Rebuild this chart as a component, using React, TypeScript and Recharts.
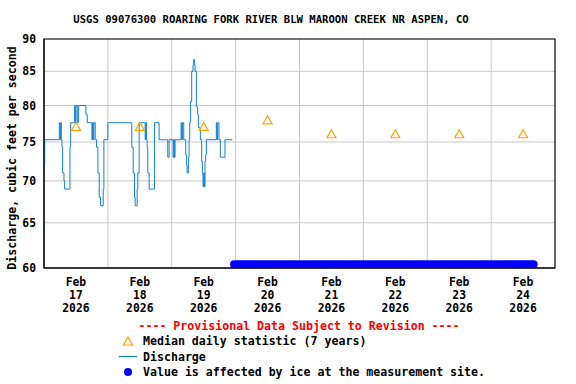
import React from 'react';
import {
  ComposedChart,
  Line,
  XAxis,
  YAxis,
  CartesianGrid,
  ReferenceArea,
} from 'recharts';

// hours counted from Feb 17 2026 00:00
const dischargeSteps: [number, number][] = [
  [0, 72], [0.25, 75.3], [5.75, 77.6], [6.0, 75.3], [6.25, 77.6], [6.5, 75.3],
  [6.75, 74.3], [7.0, 71], [7.5, 70], [7.75, 69], [9.75, 74.3], [10.0, 77.6],
  [11.5, 80], [11.75, 77.6], [12.0, 80], [12.5, 77.6],
  [13.0, 80], [15.75, 78.7], [16.25, 77.6], [18.0, 75.3], [18.25, 77.6], [18.5, 75.3],
  [18.75, 77.6], [19.25, 75.3], [19.75, 74.3], [20.25, 71], [20.75, 68], [21.25, 67],
  [22.25, 69], [22.5, 75.3], [24.0, 77.6], [33.0, 74.3], [33.5, 71], [34.0, 68],
  [34.25, 67], [35.0, 69], [35.25, 71], [35.75, 77.6], [38.0, 75.3], [38.25, 77.6],
  [38.5, 75.3], [38.75, 74.3], [39.0, 71], [39.5, 69], [41.5, 77.6], [43.25, 75.3],
  [46.5, 73], [47.0, 75.3], [48.5, 73], [48.75, 75.3], [49.0, 73], [49.25, 75.3],
  [51.5, 77.6], [51.75, 75.3], [52.0, 77.6], [52.5, 75.3],
  [53.25, 73.3], [53.5, 72], [53.75, 71], [54.25, 73], [54.5, 75.3], [54.75, 77.6],
  [55.0, 80.6], [55.5, 85], [56.0, 86], [56.25, 86.8], [56.5, 86], [56.75, 85],
  [57.25, 79.8], [57.75, 78.7], [58.0, 76.9], [58.75, 75.3], [59.25, 72.5], [59.5, 71],
  [59.75, 69.3], [60.0, 71], [60.25, 69.3], [60.5, 72.5], [60.75, 73.3], [61.0, 75.3],
  [64.75, 77.6], [65.0, 75.3], [65.25, 77.6], [65.75, 75.3],
  [66.25, 73], [68.0, 75.3], [70.75, 75.3],
];

const medianHours = [12, 36, 60, 84, 108, 132, 156, 180];
const medianValues = [77.1, 77.1, 77.1, 78.0, 76.1, 76.1, 76.1, 76.1];

const iceHours = [71.4, 184];
const iceLevel = 60.4;

const dayLabelHours = [12, 36, 60, 84, 108, 132, 156, 180];
const dayNumbers = ['17', '18', '19', '20', '21', '22', '23', '24'];
const monthLabel = 'Feb';
const yearLabel = '2026';
const midnightHours = [24, 48, 72, 96, 120, 144, 168];
const yTicks = [60, 65, 70, 75, 80, 85, 90];

const dischargeData = dischargeSteps.map(([t, v]) => ({ t, v }));
const medianData = medianHours.map((t, i) => ({ t, v: medianValues[i] }));
const iceData = iceHours.map((t) => ({ t, v: iceLevel }));

const FONT = '"DejaVu Sans Mono", monospace';
const ORANGE = '#FFA500';
const BLUE_LINE = '#1282CE';
const ICE_BLUE = '#0000FF';

const DayTick = (props: any) => {
  const { x, y, payload } = props;
  const i = dayLabelHours.indexOf(payload.value);
  return (
    <text x={x} y={y} textAnchor="middle" fontFamily={FONT} fontWeight="bold" fontSize={11.4} fill="#000">
      <tspan x={x} dy={10}>{monthLabel}</tspan>
      <tspan x={x} dy={13}>{dayNumbers[i]}</tspan>
      <tspan x={x} dy={13}>{yearLabel}</tspan>
    </text>
  );
};

const Triangle = (props: any) => {
  const { cx, cy } = props;
  if (cx == null || cy == null) return null;
  return (
    <path
      d={`M${cx - 4.5},${cy + 4} L${cx + 4.5},${cy + 4} L${cx},${cy - 4} Z`}
      fill="none"
      stroke={ORANGE}
      strokeWidth={1.2}
    />
  );
};

const App: React.FC = () => {
  return (
    <div style={{ position: 'absolute', left: 0, top: 0, width: 576, height: 384, background: '#fff', fontFamily: FONT }}>
      <div style={{ position: 'absolute', left: 0, width: 542, top: 13, textAlign: 'center', fontSize: 10.6, fontWeight: 'bold' }}>
        USGS 09076300 ROARING FORK RIVER BLW MAROON CREEK NR ASPEN, CO
      </div>
      <div
        style={{
          position: 'absolute', left: 12, top: 158, transform: 'translate(-50%, -50%) rotate(-90deg)',
          whiteSpace: 'nowrap', fontSize: 11.6, fontWeight: 'bold',
        }}
      >
        Discharge, cubic feet per second
      </div>
      <ComposedChart width={576} height={384} margin={{ top: 39, right: 21, bottom: 86, left: 0 }}>
        <CartesianGrid xAxisId="lab" verticalValues={midnightHours} stroke="#C8C8C8" strokeWidth={1} />
        <XAxis
          xAxisId="lab"
          type="number"
          dataKey="t"
          domain={[0, 192]}
          ticks={dayLabelHours}
          tick={<DayTick />}
          tickLine={false}
          axisLine={{ stroke: '#000' }}
          height={30}
          interval={0}
        />
        <YAxis
          type="number"
          scale="log"
          domain={[60, 90]}
          ticks={yTicks}
          allowDataOverflow
          width={44}
          tickLine={false}
          axisLine={{ stroke: '#000' }}
          tick={{ fill: '#000', fontSize: 11.4, fontFamily: FONT, fontWeight: 'bold' }}
          interval={0}
        />
        <ReferenceArea xAxisId="lab" x1={0} x2={192} y1={60} y2={90} fill="none" stroke="#000" strokeWidth={1.2} />
        <Line
          xAxisId="lab"
          data={iceData}
          dataKey="v"
          type="linear"
          stroke={ICE_BLUE}
          strokeWidth={8}
          strokeLinecap="round"
          dot={false}
          activeDot={false}
          isAnimationActive={false}
        />
        <Line
          xAxisId="lab"
          data={dischargeData}
          dataKey="v"
          type="stepAfter"
          stroke={BLUE_LINE}
          strokeWidth={1}
          dot={false}
          activeDot={false}
          isAnimationActive={false}
        />
        <Line
          xAxisId="lab"
          data={medianData}
          dataKey="v"
          stroke="none"
          dot={<Triangle />}
          activeDot={false}
          isAnimationActive={false}
        />
      </ComposedChart>
      <div style={{ position: 'absolute', left: 0, width: 598, top: 319, textAlign: 'center', fontSize: 11.6, fontWeight: 'bold', color: '#FF0000' }}>
        ---- Provisional Data Subject to Revision ----
      </div>
      <svg style={{ position: 'absolute', left: 0, top: 0 }} width={576} height={384} pointerEvents="none">
        <path d="M123.5,345 L132.5,345 L128,337 Z" fill="none" stroke={ORANGE} strokeWidth={1.2} />
        <line x1={119} y1={356.5} x2={137} y2={356.5} stroke={BLUE_LINE} strokeWidth={1.2} />
        <circle cx={128} cy={372} r={4} fill={ICE_BLUE} />
      </svg>
      <div style={{ position: 'absolute', left: 143, top: 334, fontSize: 11.6, fontWeight: 'bold', lineHeight: '15.6px' }}>
        <div>Median daily statistic (7 years)</div>
        <div>Discharge</div>
        <div>Value is affected by ice at the measurement site.</div>
      </div>
    </div>
  );
};

export default App;
